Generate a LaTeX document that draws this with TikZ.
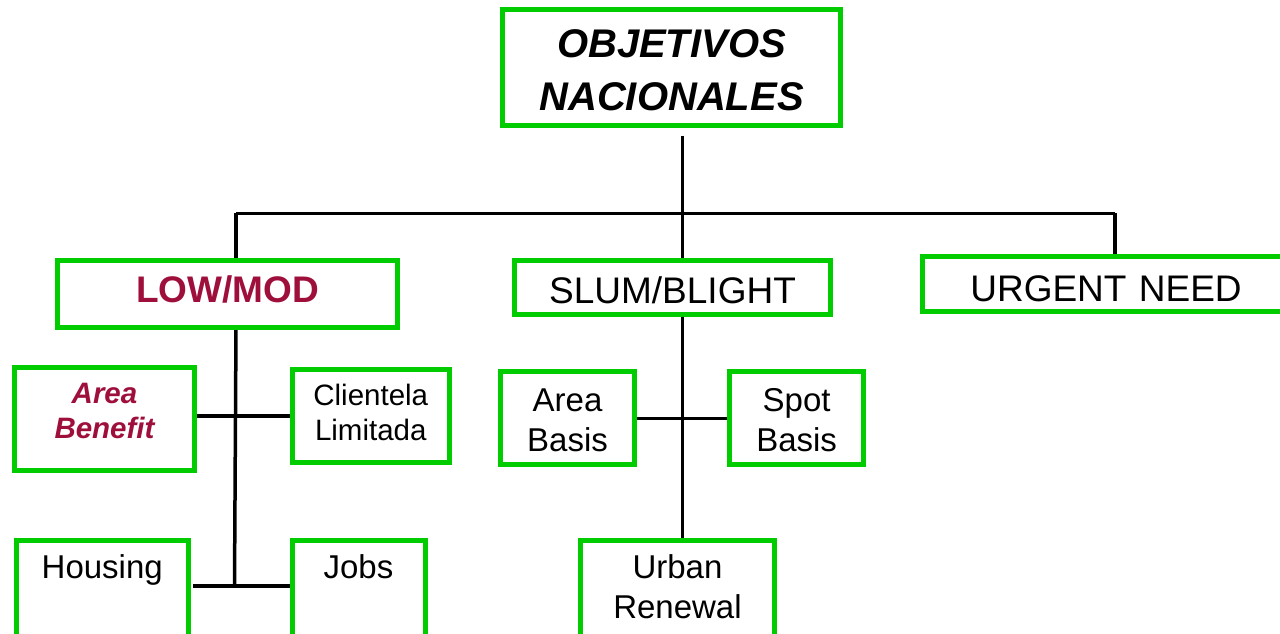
\documentclass[tikz,border=0pt]{standalone}
\usepackage{fontspec}
\setmainfont{Liberation Sans}
\usetikzlibrary{positioning,calc,backgrounds}
\definecolor{ink}{HTML}{000000}
\definecolor{boxgreen}{HTML}{00CC00}
\definecolor{wine}{HTML}{9E0F3C}
\tikzset{
  box/.style={draw=boxgreen, line width=5pt, fill=white, inner sep=0pt, outer sep=0pt, align=center, text=ink, anchor=north west},
  titletxt/.style={font=\fontsize{40}{53}\selectfont\bfseries\itshape},
  bigtxt/.style={font=\fontsize{37}{44}\selectfont},
  bigbold/.style={font=\fontsize{37}{44}\selectfont\bfseries, text=wine},
  midtxt/.style={font=\fontsize{33}{40}\selectfont},
  smalltxt/.style={font=\fontsize{29.5}{35.5}\selectfont},
  smallbold/.style={font=\fontsize{29.5}{35.5}\selectfont\bfseries\itshape, text=wine},
  link/.style={draw=ink, line width=3.5pt},
  bar/.style={draw=ink, line width=3pt}
}

\begin{document}
\begin{tikzpicture}[x=1pt, y=-1pt]
\useasboundingbox (0,0) rectangle (1280,633);
\clip (0,0) rectangle (1280,633);
% top
\node[box, titletxt, text width=338pt, text height=47.5pt, text depth=68.5pt] (obj) at (502.5,9.5) {OBJETIVOS\\NACIONALES};
% second row
\node[box, bigbold, text width=340pt, text height=41.5pt, text depth=25.5pt] (low) at (57.5,260.5) {LOW/MOD};
\node[box, bigtxt, text width=316pt, text height=42.5pt, text depth=11.5pt] (slum) at (514.5,260.5) {SLUM/BLIGHT};
\node[box, bigtxt, text width=367pt, text height=44.3pt, text depth=10.7pt] (urgent) at (922.5,256.7) {URGENT NEED};
% under low/mod
\node[box, smallbold, text width=180pt, text height=35.5pt, text depth=67.5pt] (areaben) at (14.5,367.5) {Area\\Benefit};
\node[box, smalltxt, text width=156.5pt, text height=35.5pt, text depth=57.5pt] (client) at (292.5,369.5) {Clientela\\Limitada};
\node[box, midtxt, text width=171.5pt, text height=38pt, text depth=90pt] (housing) at (16.5,540) {Housing};
\node[box, midtxt, text width=133pt, text height=38pt, text depth=90pt] (jobs) at (292,540) {Jobs};
% under slum/blight
\node[box, midtxt, text width=133.4pt, text height=39.9pt, text depth=53.1pt] (areabas) at (500.8,371.8) {Area\\Basis};
\node[box, midtxt, text width=133.7pt, text height=39.9pt, text depth=53.1pt] (spotbas) at (729.8,371.8) {Spot\\Basis};
\node[box, midtxt, text width=193.4pt, text height=38.3pt, text depth=90pt] (urban) at (580.8,540) {Urban\\Renewal};

\coordinate (hub) at (682.5,213);
\coordinate (barL) at (236,213);
\coordinate (barR) at (1115,213);
\coordinate (lowjoin) at (234.5,586);

\begin{scope}[on background layer]
\draw[link] ([yshift=-10pt]obj.south -| hub) -- (hub);
\draw[bar] (barL) -- (barR);
\draw[link] (barL) -- (barL |- low.north);
\draw[link] (hub) -- (hub |- slum.north);
\draw[link] (barR) -- (barR |- urgent.north);
\draw[link] (low.south -| barL) -- (lowjoin);
\draw[link] (areaben.east |- client.west) -- (client.west);
\draw[link] ([xshift=5pt]housing.east |- lowjoin) -- (jobs.west |- lowjoin);
\draw[link] (slum.south -| hub) -- (urban.north -| hub);
\draw[link] (areabas.east) -- (spotbas.west);
\end{scope}
\end{tikzpicture}
\end{document}
